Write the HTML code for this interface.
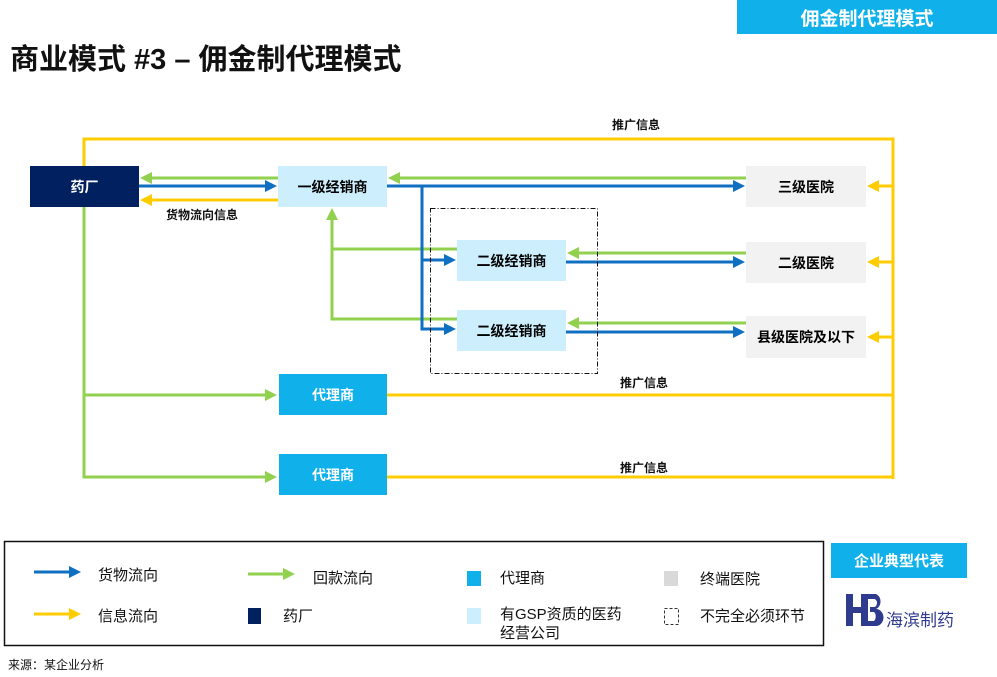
<!DOCTYPE html>
<html><head><meta charset="utf-8"><style>
body{margin:0;width:997px;height:677px;background:#fff;font-family:"Liberation Sans","Noto Sans CJK SC",sans-serif;position:relative;overflow:hidden}
.a{position:absolute}
.b{position:absolute;display:flex;align-items:center;justify-content:center;font-size:14px;font-weight:bold}
.t{position:absolute;font-size:12px;font-weight:bold;color:#111}
.l{position:absolute;font-size:15px;color:#111}
</style></head><body>
<div class="b" style="left:737px;top:0;width:260px;height:34px;background:#10b0ea;color:#fff;font-size:19px">佣金制代理模式</div>
<div class="a" style="left:10px;top:36px;font-size:29px;font-weight:bold;color:#111">商业模式 #3 – 佣金制代理模式</div>

<svg class="a" style="left:0;top:0" width="997" height="677">
<defs>
<marker id="mb" markerWidth="4" markerHeight="4" refX="3" refY="2" orient="auto" markerUnits="strokeWidth"><path d="M0,0L4,2L0,4z" fill="#0f6fc0"/></marker>
<marker id="mg" markerWidth="4" markerHeight="4" refX="3" refY="2" orient="auto" markerUnits="strokeWidth"><path d="M0,0L4,2L0,4z" fill="#92d050"/></marker>
<marker id="my" markerWidth="4" markerHeight="4" refX="3" refY="2" orient="auto" markerUnits="strokeWidth"><path d="M0,0L4,2L0,4z" fill="#ffcc00"/></marker>
</defs>
<g fill="none" stroke-width="3">
<path d="M84,166V139H893V479" stroke="#ffcc00"/>
<path d="M387,395H893M387,477H893" stroke="#ffcc00"/>
<path d="M893,186H870" stroke="#ffcc00" marker-end="url(#my)"/>
<path d="M893,262H870" stroke="#ffcc00" marker-end="url(#my)"/>
<path d="M893,337H870" stroke="#ffcc00" marker-end="url(#my)"/>
<path d="M278,200H143" stroke="#ffcc00" marker-end="url(#my)"/>
<path d="M84,207V477H274" stroke="#92d050" marker-end="url(#mg)"/>
<path d="M84,395H274" stroke="#92d050" marker-end="url(#mg)"/>
<path d="M278,178H143" stroke="#92d050" marker-end="url(#mg)"/>
<path d="M746,178H391" stroke="#92d050" marker-end="url(#mg)"/>
<path d="M457,249H332V211" stroke="#92d050" marker-end="url(#mg)"/>
<path d="M457,319H332V249" stroke="#92d050"/>
<path d="M746,253H570" stroke="#92d050" marker-end="url(#mg)"/>
<path d="M746,323H570" stroke="#92d050" marker-end="url(#mg)"/>
<path d="M139,186H274" stroke="#0f6fc0" marker-end="url(#mb)"/>
<path d="M387,186H742" stroke="#0f6fc0" marker-end="url(#mb)"/>
<path d="M422,186V329H453" stroke="#0f6fc0" marker-end="url(#mb)"/>
<path d="M422,260H453" stroke="#0f6fc0" marker-end="url(#mb)"/>
<path d="M566,262H742" stroke="#0f6fc0" marker-end="url(#mb)"/>
<path d="M566,332H742" stroke="#0f6fc0" marker-end="url(#mb)"/>
</g>
<rect x="430.5" y="208.5" width="167" height="165" fill="none" stroke="#111" stroke-width="1" stroke-dasharray="5,2,1,2"/>
<rect x="4.5" y="541.5" width="819" height="104" fill="none" stroke="#111" stroke-width="1.5"/>
<g stroke-width="3">
<line x1="34" y1="572" x2="78" y2="572" stroke="#0f6fc0" marker-end="url(#mb)"/>
<line x1="248" y1="574" x2="292" y2="574" stroke="#92d050" marker-end="url(#mg)"/>
<line x1="34" y1="614" x2="78" y2="614" stroke="#ffcc00" marker-end="url(#my)"/>
</g>
<rect x="664.5" y="608.5" width="14" height="16" fill="none" stroke="#333" stroke-dasharray="3,2"/>
<g fill="#2f3b8f">
<rect x="846" y="594" width="7" height="32"/>
<rect x="853" y="607" width="8" height="6"/>
<rect x="861" y="594" width="7" height="32"/>
<path d="M868,594h8a7,8 0 0 1 0,15a7,8 0 0 1 0,17h-8v-5h6a3,5 0 0 0 0,-9h-4v-5h4a3,4 0 0 0 0,-8h-6z"/>
</g>
</svg>

<div class="b" style="left:30px;top:166px;width:109px;height:41px;background:#002060;color:#fff">药厂</div>
<div class="b" style="left:278px;top:166px;width:109px;height:41px;background:#cdeefc">一级经销商</div>
<div class="b" style="left:457px;top:240px;width:109px;height:41px;background:#cdeefc">二级经销商</div>
<div class="b" style="left:457px;top:310px;width:109px;height:41px;background:#cdeefc">二级经销商</div>
<div class="b" style="left:746px;top:166px;width:120px;height:41px;background:#f2f2f2">三级医院</div>
<div class="b" style="left:746px;top:242px;width:120px;height:41px;background:#f2f2f2">二级医院</div>
<div class="b" style="left:746px;top:316px;width:120px;height:42px;background:#f2f2f2">县级医院及以下</div>
<div class="b" style="left:279px;top:374px;width:108px;height:41px;background:#10b0ea;color:#fff">代理商</div>
<div class="b" style="left:279px;top:454px;width:108px;height:41px;background:#10b0ea;color:#fff">代理商</div>

<div class="t" style="left:612px;top:116px">推广信息</div>
<div class="t" style="left:620px;top:374px">推广信息</div>
<div class="t" style="left:620px;top:459px">推广信息</div>
<div class="t" style="left:166px;top:206px">货物流向信息</div>

<div class="l" style="left:98px;top:564px">货物流向</div>
<div class="l" style="left:313px;top:567px">回款流向</div>
<div class="a" style="left:467px;top:571px;width:14px;height:15px;background:#10b0ea"></div>
<div class="l" style="left:500px;top:567px">代理商</div>
<div class="a" style="left:664px;top:571px;width:14px;height:15px;background:#d9d9d9"></div>
<div class="l" style="left:700px;top:568px">终端医院</div>
<div class="l" style="left:98px;top:605px">信息流向</div>
<div class="a" style="left:248px;top:608px;width:13px;height:16px;background:#002060"></div>
<div class="l" style="left:283px;top:605px">药厂</div>
<div class="a" style="left:467px;top:608px;width:14px;height:16px;background:#cdeefc"></div>
<div class="l" style="left:500px;top:605px;line-height:19px">有GSP资质的医药<br>经营公司</div>
<div class="l" style="left:700px;top:605px">不完全必须环节</div>

<div class="b" style="left:831px;top:543px;width:136px;height:35px;background:#10b0ea;color:#fff;font-size:15px">企业典型代表</div>
<div class="a" style="left:886px;top:606px;font-size:17px;color:#2f3b8f">海滨制药</div>
<div class="a" style="left:8px;top:656px;font-size:12px;color:#111">来源：某企业分析</div>
</body></html>
